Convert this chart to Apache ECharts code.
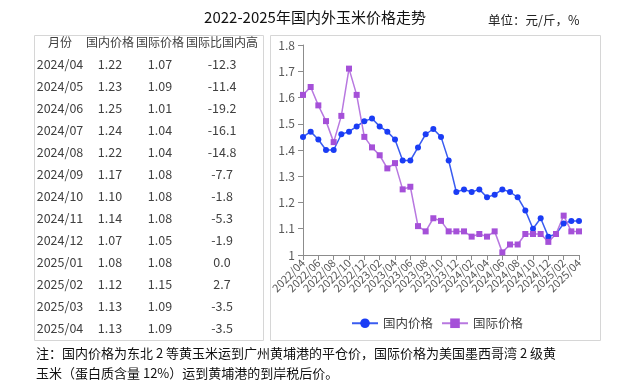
<!DOCTYPE html>
<html><head><meta charset="utf-8">
<script src="https://cdn.jsdelivr.net/npm/echarts@6/dist/echarts.min.js"></script>
<style>html,body{margin:0;padding:0;background:#fff}#c{width:630px;height:386px}</style>
</head><body><div id="c"></div>
<script>
const months = ['2022/04','2022/05','2022/06','2022/07','2022/08','2022/09','2022/10','2022/11','2022/12',
'2023/01','2023/02','2023/03','2023/04','2023/05','2023/06','2023/07','2023/08','2023/09','2023/10','2023/11','2023/12',
'2024/01','2024/02','2024/03','2024/04','2024/05','2024/06','2024/07','2024/08','2024/09','2024/10','2024/11','2024/12',
'2025/01','2025/02','2025/03','2025/04'];
const domestic = [1.45,1.47,1.44,1.40,1.40,1.46,1.47,1.49,1.51,1.52,1.49,1.47,1.44,1.36,1.36,1.41,1.46,1.48,1.45,1.36,1.24,
1.25,1.24,1.25,1.22,1.23,1.25,1.24,1.22,1.17,1.10,1.14,1.07,1.08,1.12,1.13,1.13];
const international = [1.61,1.64,1.57,1.51,1.43,1.53,1.71,1.61,1.45,1.41,1.38,1.33,1.35,1.25,1.26,1.11,1.09,1.14,1.13,1.09,1.09,
1.09,1.07,1.08,1.07,1.09,1.01,1.04,1.04,1.08,1.08,1.08,1.05,1.08,1.15,1.09,1.09];
const tableHeader = ['月份','国内价格','国际价格','国际比国内高'];
const tableMonths = ['2024/04','2024/05','2024/06','2024/07','2024/08','2024/09','2024/10','2024/11','2024/12','2025/01','2025/02','2025/03','2025/04'];
const tableDomestic = ['1.22','1.23','1.25','1.24','1.22','1.17','1.10','1.14','1.07','1.08','1.12','1.13','1.13'];
const tableIntl = ['1.07','1.09','1.01','1.04','1.04','1.08','1.08','1.08','1.05','1.08','1.15','1.09','1.09'];
const tableDiff = ['-12.3','-11.4','-19.2','-16.1','-14.8','-7.7','-1.8','-5.3','-1.9','0.0','2.7','-3.5','-3.5'];
const titleText = '2022-2025年国内外玉米价格走势';
const unitText = '单位：元/斤，%';
const noteLines = ['注：国内价格为东北 2 等黄玉米运到广州黄埔港的平仓价，国际价格为美国墨西哥湾 2 级黄','玉米（蛋白质含量 12%）运到黄埔港的到岸税后价。'];

const FONT = '"Noto Sans CJK SC", "Noto Sans", sans-serif';
const colX = [60,110,160,222];
const graphics = [];
graphics.push({type:'rect', shape:{x:34.5,y:35.5,width:229,height:305}, style:{fill:'none',stroke:'#d6d6d6',lineWidth:1}, silent:true});
graphics.push({type:'rect', shape:{x:270.5,y:35.5,width:330,height:305}, style:{fill:'none',stroke:'#d6d6d6',lineWidth:1}, silent:true});
tableHeader.forEach((h,i)=>graphics.push({type:'text', x:colX[i], y:42, style:{text:h, fill:'#404040', font:'12px '+FONT, align:'center', verticalAlign:'middle'}}));
const cols = [tableMonths, tableDomestic, tableIntl, tableDiff];
tableMonths.forEach((m,r)=>{
  cols.forEach((col,c)=>graphics.push({type:'text', x:colX[c], y:64+r*22, style:{text:col[r], fill:'#404040', font:'12.5px '+FONT, align:'center', verticalAlign:'middle'}}));
});
graphics.push({type:'text', x:315, y:17, style:{text:titleText, fill:'#111', font:'15px '+FONT, align:'center', verticalAlign:'middle'}});
graphics.push({type:'text', x:488, y:20, style:{text:unitText, fill:'#222', font:'12.5px '+FONT, align:'left', verticalAlign:'middle'}});
noteLines.forEach((t,i)=>graphics.push({type:'text', x:36, y:353+i*20, style:{text:t, fill:'#111', font:'13px '+FONT, align:'left', verticalAlign:'middle'}}));

const chart = echarts.init(document.getElementById('c'));
chart.setOption({
  animation:false,
  backgroundColor:'#fff',
  grid:{left:303, right:51, top:45, bottom:131, containLabel:false},
  legend:{left:346, top:312, itemWidth:26, itemHeight:12, itemGap:8,
    textStyle:{fontSize:12.5, color:'#404040', fontFamily:FONT},
    data:['国内价格','国际价格']},
  xAxis:{type:'category', data:months, boundaryGap:false,
    axisLine:{lineStyle:{color:'#8c8c8c'}},
    axisTick:{interval:1, length:5, lineStyle:{color:'#8c8c8c'}},
    axisLabel:{interval:1, rotate:45, fontSize:11, color:'#595959', fontFamily:FONT, margin:6}},
  yAxis:{type:'value', min:1, max:1.8, interval:0.1,
    axisLine:{show:true, lineStyle:{color:'#8c8c8c'}},
    axisTick:{show:true, length:5, lineStyle:{color:'#8c8c8c'}},
    splitLine:{show:false},
    axisLabel:{fontSize:12, color:'#595959', fontFamily:FONT, margin:8,
      formatter:v=>String(Math.round(v*10)/10)}},
  series:[
    {name:'国内价格', type:'line', data:domestic, symbol:'circle', symbolSize:6, showAllSymbol:true,
      lineStyle:{color:'#3a5cf0', width:1.5}, itemStyle:{color:'#1a3cf5'}},
    {name:'国际价格', type:'line', data:international, symbol:'rect', symbolSize:6, showAllSymbol:true,
      lineStyle:{color:'#b878e0', width:1.5}, itemStyle:{color:'#a550d8'}}
  ],
  graphic:graphics
});
</script></body></html>
